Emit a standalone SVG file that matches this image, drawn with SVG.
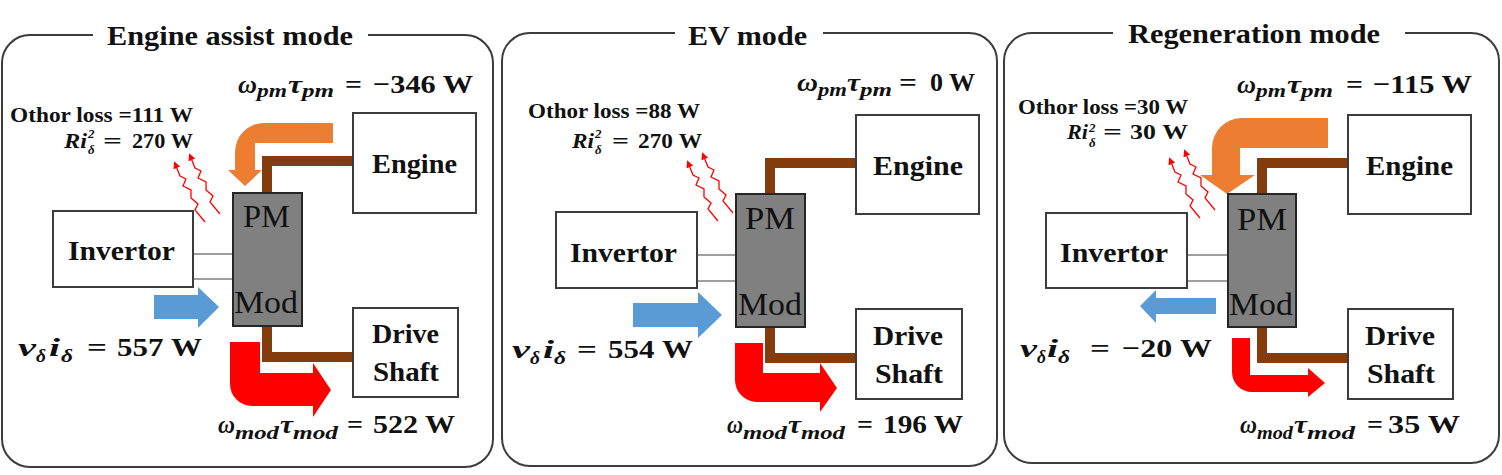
<svg xmlns="http://www.w3.org/2000/svg" width="1502" height="475" viewBox="0 0 1502 475">
<style>
.frame{fill:none;stroke:#3c3c3c;stroke-width:2}
.box{fill:#fff;stroke:#3c3c3c;stroke-width:2}
.pm{fill:#808080;stroke:#262626;stroke-width:2}
.shaft{fill:none;stroke:#843C0C;stroke-width:10;stroke-linejoin:miter}
.wire{stroke:#7f7f7f;stroke-width:1.5}
.blue{fill:#5B9BD5}
.orange{fill:#ED7D31}
.red{fill:#FF0000}
.heat{fill:none;stroke:#FF0000;stroke-width:1.3;marker-start:url(#hh)}
text{font-family:"Liberation Serif","Times New Roman",serif;font-weight:bold;fill:#111}
.ttl{font-size:27px}
.lbl{font-size:27px}
.pmt{font-weight:normal;font-size:31px}
.eq{font-size:26px}
.v{font-style:italic}
.s{font-style:italic;font-size:19px}
.loss{font-size:21px}
.sm{font-style:italic;font-size:13px}
</style>
<defs>
<marker id="hh" viewBox="0 0 10 10" refX="3" refY="5" markerWidth="5.5" markerHeight="5.5" orient="auto-start-reverse"><path d="M0,0 L10,5 L0,10 Z" fill="#FF0000"/></marker>
<g id="heat">
<path class="heat" d="M1,4 L5,14 L11,17 L8,24 L16,28 L16,36 L23,42 L20,48 L30,60"/>
<path class="heat" d="M16,-4 L20,6 L26,9 L23,16 L31,20 L31,28 L38,34 L35,40 L45,52"/>
</g>
</defs>
<rect width="1502" height="475" fill="#fff"/>

<!-- Panel 1 -->
<g id="panel-assist">
<path class="frame" d="M93,35 H30 A28,28 0 0 0 2,63 V439 A28,28 0 0 0 30,467 H465 A28,28 0 0 0 493,439 V63 A28,28 0 0 0 465,35 H368"/>
<text class="ttl" x="107" y="45" textLength="246" lengthAdjust="spacingAndGlyphs">Engine assist mode</text>
<g id="assist-connectors">
<path class="shaft" d="M353,161 H267 V193"/>
<path class="shaft" d="M267,326 V357 H353"/>
<line class="wire" x1="193" y1="254" x2="233" y2="254"/>
<line class="wire" x1="193" y1="279" x2="233" y2="279"/>
<path class="orange" d="M333,123 H264 A29,29 0 0 0 235,152 V170 H228 L245,186 L262,170 H255 V143 H333 Z"/>
<path class="blue" d="M154,295 H198 V287 L219,307 L198,328 V319 H154 Z"/>
<path class="red" d="M230,342 H260 V373 H313 V363 L331,390 L313,417 V406 H252 A22,22 0 0 1 230,384 Z"/>
<use href="#heat" transform="translate(175,162)"/>
</g>
<g id="assist-engine"><rect class="box" x="353" y="113" width="123" height="100"/><text class="lbl" x="372" y="173" textLength="85" lengthAdjust="spacingAndGlyphs">Engine</text></g>
<g id="assist-pm"><rect class="pm" x="233" y="193" width="69" height="133"/><text class="pmt" x="243" y="227" textLength="47" lengthAdjust="spacingAndGlyphs">PM</text><text class="pmt" x="234" y="313" textLength="64" lengthAdjust="spacingAndGlyphs">Mod</text></g>
<g id="assist-invertor"><rect class="box" x="53" y="211" width="140" height="76"/><text class="lbl" x="68" y="260" textLength="107" lengthAdjust="spacingAndGlyphs">Invertor</text></g>
<g id="assist-shaft"><rect class="box" x="353" y="308" width="105" height="89"/><text class="lbl" x="372" y="343" textLength="67" lengthAdjust="spacingAndGlyphs">Drive</text><text class="lbl" x="373" y="381" textLength="66" lengthAdjust="spacingAndGlyphs">Shaft</text></g>
<text class="eq"><tspan class="v" x="238" y="93" textLength="19" lengthAdjust="spacingAndGlyphs">ω</tspan><tspan class="s" x="257" y="97" textLength="30" lengthAdjust="spacingAndGlyphs">pm</tspan><tspan class="v" x="288" y="93" textLength="14" lengthAdjust="spacingAndGlyphs">τ</tspan><tspan class="s" x="302" y="97" textLength="32" lengthAdjust="spacingAndGlyphs">pm</tspan><tspan x="345" y="93" textLength="17" lengthAdjust="spacingAndGlyphs">=</tspan><tspan x="373" y="93" textLength="100" lengthAdjust="spacingAndGlyphs">−346 W</tspan></text>
<text class="loss" x="10" y="122" textLength="183" lengthAdjust="spacingAndGlyphs">Othor loss =111 W</text>
<text class="loss"><tspan class="v" x="64" y="148" textLength="23" lengthAdjust="spacingAndGlyphs">Ri</tspan><tspan class="sm" x="88" y="138">2</tspan><tspan class="sm" x="88" y="154">δ</tspan><tspan x="103" y="148" textLength="19" lengthAdjust="spacingAndGlyphs">=</tspan><tspan x="132" y="148" textLength="61" lengthAdjust="spacingAndGlyphs">270 W</tspan></text>
<text class="eq"><tspan class="v" x="18" y="356" textLength="18" lengthAdjust="spacingAndGlyphs">v</tspan><tspan class="s" x="36" y="362" textLength="10" lengthAdjust="spacingAndGlyphs">δ</tspan><tspan class="v" x="49" y="356" textLength="11" lengthAdjust="spacingAndGlyphs">i</tspan><tspan class="s" x="61" y="362" textLength="12" lengthAdjust="spacingAndGlyphs">δ</tspan><tspan x="87" y="356" textLength="20" lengthAdjust="spacingAndGlyphs">=</tspan><tspan x="117" y="356" textLength="85" lengthAdjust="spacingAndGlyphs">557 W</tspan></text>
<text class="eq"><tspan class="v" x="218" y="433" textLength="17" lengthAdjust="spacingAndGlyphs">ω</tspan><tspan class="s" x="235" y="439" textLength="44" lengthAdjust="spacingAndGlyphs">mod</tspan><tspan class="v" x="280" y="433" textLength="13" lengthAdjust="spacingAndGlyphs">τ</tspan><tspan class="s" x="293" y="439" textLength="45" lengthAdjust="spacingAndGlyphs">mod</tspan><tspan x="347" y="433" textLength="16" lengthAdjust="spacingAndGlyphs">=</tspan><tspan x="373" y="433" textLength="82" lengthAdjust="spacingAndGlyphs">522 W</tspan></text>
</g>

<!-- Panel 2 -->
<g id="panel-ev">
<path class="frame" d="M675,33 H530 A28,28 0 0 0 502,61 V438 A28,28 0 0 0 530,466 H969 A28,28 0 0 0 997,438 V61 A28,28 0 0 0 969,33 H823"/>
<text class="ttl" x="688" y="45" textLength="119" lengthAdjust="spacingAndGlyphs">EV mode</text>
<g id="ev-connectors">
<path class="shaft" d="M856,163 H770 V194"/>
<path class="shaft" d="M770,327 V358 H856"/>
<line class="wire" x1="697" y1="255" x2="736" y2="255"/>
<line class="wire" x1="697" y1="281" x2="736" y2="281"/>
<path class="blue" d="M633,303 H698 V292 L722,315 L698,338 V327 H633 Z"/>
<path class="red" d="M735,343 H763 V373 H820 V363 L837,388 L820,412 V402 H757 A22,22 0 0 1 735,380 Z"/>
<use href="#heat" transform="translate(688,161)"/>
</g>
<g id="ev-engine"><rect class="box" x="856" y="115" width="123" height="99"/><text class="lbl" x="873" y="175" textLength="90" lengthAdjust="spacingAndGlyphs">Engine</text></g>
<g id="ev-pm"><rect class="pm" x="736" y="194" width="69" height="133"/><text class="pmt" x="745" y="229" textLength="50" lengthAdjust="spacingAndGlyphs">PM</text><text class="pmt" x="738" y="315" textLength="64" lengthAdjust="spacingAndGlyphs">Mod</text></g>
<g id="ev-invertor"><rect class="box" x="556" y="212" width="141" height="76"/><text class="lbl" x="570" y="262" textLength="107" lengthAdjust="spacingAndGlyphs">Invertor</text></g>
<g id="ev-shaft"><rect class="box" x="856" y="309" width="106" height="90"/><text class="lbl" x="873" y="345" textLength="70" lengthAdjust="spacingAndGlyphs">Drive</text><text class="lbl" x="875" y="383" textLength="68" lengthAdjust="spacingAndGlyphs">Shaft</text></g>
<text class="eq"><tspan class="v" x="797" y="91" textLength="21" lengthAdjust="spacingAndGlyphs">ω</tspan><tspan class="s" x="818" y="96" textLength="29" lengthAdjust="spacingAndGlyphs">pm</tspan><tspan class="v" x="847" y="91" textLength="13" lengthAdjust="spacingAndGlyphs">τ</tspan><tspan class="s" x="860" y="96" textLength="32" lengthAdjust="spacingAndGlyphs">pm</tspan><tspan x="899" y="91" textLength="18" lengthAdjust="spacingAndGlyphs">=</tspan><tspan x="930" y="91" textLength="45" lengthAdjust="spacingAndGlyphs">0 W</tspan></text>
<text class="loss" x="528" y="118" textLength="172" lengthAdjust="spacingAndGlyphs">Othor loss =88 W</text>
<text class="loss"><tspan class="v" x="572" y="148" textLength="22" lengthAdjust="spacingAndGlyphs">Ri</tspan><tspan class="sm" x="595" y="138">2</tspan><tspan class="sm" x="595" y="154">δ</tspan><tspan x="612" y="148" textLength="17" lengthAdjust="spacingAndGlyphs">=</tspan><tspan x="638" y="148" textLength="64" lengthAdjust="spacingAndGlyphs">270 W</tspan></text>
<text class="eq"><tspan class="v" x="512" y="358" textLength="18" lengthAdjust="spacingAndGlyphs">v</tspan><tspan class="s" x="530" y="364" textLength="10" lengthAdjust="spacingAndGlyphs">δ</tspan><tspan class="v" x="543" y="358" textLength="11" lengthAdjust="spacingAndGlyphs">i</tspan><tspan class="s" x="554" y="364" textLength="12" lengthAdjust="spacingAndGlyphs">δ</tspan><tspan x="577" y="358" textLength="20" lengthAdjust="spacingAndGlyphs">=</tspan><tspan x="608" y="358" textLength="85" lengthAdjust="spacingAndGlyphs">554 W</tspan></text>
<text class="eq"><tspan class="v" x="727" y="433" textLength="16" lengthAdjust="spacingAndGlyphs">ω</tspan><tspan class="s" x="743" y="439" textLength="44" lengthAdjust="spacingAndGlyphs">mod</tspan><tspan class="v" x="788" y="433" textLength="13" lengthAdjust="spacingAndGlyphs">τ</tspan><tspan class="s" x="801" y="439" textLength="44" lengthAdjust="spacingAndGlyphs">mod</tspan><tspan x="857" y="433" textLength="16" lengthAdjust="spacingAndGlyphs">=</tspan><tspan x="883" y="433" textLength="80" lengthAdjust="spacingAndGlyphs">196 W</tspan></text>
</g>

<!-- Panel 3 -->
<g id="panel-regen">
<path class="frame" d="M1113,33 H1032 A28,28 0 0 0 1004,61 V435 A28,28 0 0 0 1032,463 H1471 A28,28 0 0 0 1499,435 V61 A28,28 0 0 0 1471,33 H1405"/>
<text class="ttl" x="1128" y="43" textLength="252" lengthAdjust="spacingAndGlyphs">Regeneration mode</text>
<g id="regen-connectors">
<path class="shaft" d="M1348,163 H1262 V194"/>
<path class="shaft" d="M1262,327 V358 H1348"/>
<line class="wire" x1="1187" y1="255" x2="1228" y2="255"/>
<line class="wire" x1="1187" y1="281" x2="1228" y2="281"/>
<path class="orange" d="M1328,118 H1242 A30,30 0 0 0 1212,148 V175 H1200 L1227,194 L1255,175 H1240 V148 H1328 Z"/>
<path class="blue" d="M1216,298 H1156 V290 L1140,306 L1156,323 V314 H1216 Z"/>
<path class="red" d="M1232,338 H1250 V375 H1308 V368 L1325,383 L1308,397 V392 H1252 A20,20 0 0 1 1232,372 Z"/>
<use href="#heat" transform="translate(1170,158)"/>
</g>
<g id="regen-engine"><rect class="box" x="1348" y="115" width="123" height="99"/><text class="lbl" x="1366" y="175" textLength="87" lengthAdjust="spacingAndGlyphs">Engine</text></g>
<g id="regen-pm"><rect class="pm" x="1228" y="194" width="68" height="133"/><text class="pmt" x="1237" y="230" textLength="50" lengthAdjust="spacingAndGlyphs">PM</text><text class="pmt" x="1229" y="315" textLength="64" lengthAdjust="spacingAndGlyphs">Mod</text></g>
<g id="regen-invertor"><rect class="box" x="1046" y="213" width="141" height="75"/><text class="lbl" x="1060" y="262" textLength="108" lengthAdjust="spacingAndGlyphs">Invertor</text></g>
<g id="regen-shaft"><rect class="box" x="1348" y="309" width="105" height="90"/><text class="lbl" x="1365" y="345" textLength="70" lengthAdjust="spacingAndGlyphs">Drive</text><text class="lbl" x="1367" y="383" textLength="68" lengthAdjust="spacingAndGlyphs">Shaft</text></g>
<text class="eq"><tspan class="v" x="1237" y="93" textLength="19" lengthAdjust="spacingAndGlyphs">ω</tspan><tspan class="s" x="1256" y="97" textLength="30" lengthAdjust="spacingAndGlyphs">pm</tspan><tspan class="v" x="1287" y="93" textLength="14" lengthAdjust="spacingAndGlyphs">τ</tspan><tspan class="s" x="1301" y="97" textLength="32" lengthAdjust="spacingAndGlyphs">pm</tspan><tspan x="1346" y="93" textLength="17" lengthAdjust="spacingAndGlyphs">=</tspan><tspan x="1373" y="93" textLength="99" lengthAdjust="spacingAndGlyphs">−115 W</tspan></text>
<text class="loss" x="1018" y="114" textLength="170" lengthAdjust="spacingAndGlyphs">Othor loss =30 W</text>
<text class="loss"><tspan class="v" x="1067" y="139" textLength="21" lengthAdjust="spacingAndGlyphs">Ri</tspan><tspan class="sm" x="1089" y="132">2</tspan><tspan class="sm" x="1089" y="147">δ</tspan><tspan x="1103" y="139" textLength="19" lengthAdjust="spacingAndGlyphs">=</tspan><tspan x="1130" y="139" textLength="58" lengthAdjust="spacingAndGlyphs">30 W</tspan></text>
<text class="eq"><tspan class="v" x="1020" y="357" textLength="17" lengthAdjust="spacingAndGlyphs">v</tspan><tspan class="s" x="1037" y="363" textLength="9" lengthAdjust="spacingAndGlyphs">δ</tspan><tspan class="v" x="1047" y="357" textLength="11" lengthAdjust="spacingAndGlyphs">i</tspan><tspan class="s" x="1058" y="363" textLength="12" lengthAdjust="spacingAndGlyphs">δ</tspan><tspan x="1090" y="357" textLength="20" lengthAdjust="spacingAndGlyphs">=</tspan><tspan x="1122" y="357" textLength="90" lengthAdjust="spacingAndGlyphs">−20 W</tspan></text>
<text class="eq"><tspan class="v" x="1240" y="433" textLength="17" lengthAdjust="spacingAndGlyphs">ω</tspan><tspan class="s" x="1257" y="439" textLength="36" lengthAdjust="spacingAndGlyphs">mod</tspan><tspan class="v" x="1294" y="433" textLength="13" lengthAdjust="spacingAndGlyphs">τ</tspan><tspan class="s" x="1307" y="439" textLength="48" lengthAdjust="spacingAndGlyphs">mod</tspan><tspan x="1367" y="433" textLength="16" lengthAdjust="spacingAndGlyphs">=</tspan><tspan x="1388" y="433" textLength="72" lengthAdjust="spacingAndGlyphs">35 W</tspan></text>
</g>
</svg>
